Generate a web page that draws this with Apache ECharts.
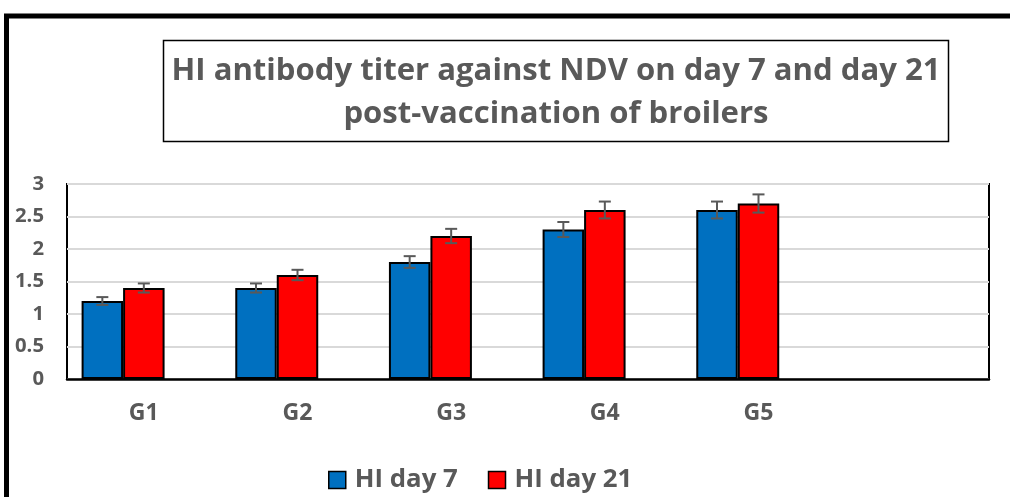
<!DOCTYPE html>
<html><head><meta charset="utf-8">
<script src="https://cdn.jsdelivr.net/npm/echarts@6/dist/echarts.min.js"></script>
<style>html,body{margin:0;padding:0;background:#fff}#c{width:1010px;height:497px}</style>
</head><body><div id="c"></div>
<script>
const categories = ['G1','G2','G3','G4','G5',''];
const day7 = [1.2, 1.4, 1.8, 2.3, 2.6];
const day21 = [1.4, 1.6, 2.2, 2.6, 2.7];
const err7 = [0.06, 0.07, 0.09, 0.115, 0.13];
const err21 = [0.07, 0.08, 0.11, 0.13, 0.14];
const seriesNames = ['HI day 7', 'HI day 21'];
const titleLines = ['HI antibody titer against NDV on day 7 and day 21', 'post-vaccination of broilers'];

const FONT = 'Open Sans';
const GRAY = '#595959';
const GAP = 0.19;

// size a font so that a sample string takes a given width
const mctx = document.createElement('canvas').getContext('2d');
function fitSize(sample, targetWidth) {
  mctx.font = 'bold 100px "' + FONT + '"';
  return Math.round(100 * targetWidth / mctx.measureText(sample).width * 10) / 10;
}
const titleSize = fitSize(titleLines[0], 768);
const yLabelSize = fitSize('2.5', 29);
const xLabelSize = fitSize('G1', 30);
const legendSize = fitSize(seriesNames[0], 103);

function errRender(slot, errs) {
  return function (params, api) {
    const i = params.dataIndex;
    const v = api.value(1);
    const e = errs[i];
    const base = api.coord([i, v]);
    const band = api.size([1, 0])[0];
    const bw = band * (1 - GAP) / 3;
    const x = base[0] - 1.5 * bw + (slot + 0.5) * bw;
    const top = api.coord([i, v + e])[1];
    const bot = api.coord([i, v - e])[1];
    const cw = 6;
    const st = { stroke: GRAY, lineWidth: 2 };
    return { type: 'group', children: [
      { type: 'line', shape: { x1: x, y1: top, x2: x, y2: bot }, style: st },
      { type: 'line', shape: { x1: x - cw, y1: top, x2: x + cw, y2: top }, style: st },
      { type: 'line', shape: { x1: x - cw, y1: bot, x2: x + cw, y2: bot }, style: st }
    ]};
  };
}

const chart = echarts.init(document.getElementById('c'), null, { renderer: 'canvas' });
chart.setOption({
  animation: false,
  backgroundColor: '#fff',
  graphic: [
    { type: 'rect', shape: { x: 6.5, y: 16, width: 1100, height: 600 }, style: { fill: 'none', stroke: '#000', lineWidth: 5 }, z: 100 },
    { type: 'rect', shape: { x: 163.5, y: 40.5, width: 785, height: 101 }, style: { fill: 'none', stroke: '#000', lineWidth: 1.5 }, z: 100 }
  ],
  title: {
    text: titleLines.join('\n'), left: 556, top: 50, textAlign: 'center', padding: 0,
    textStyle: { fontFamily: FONT, fontWeight: 'bold', fontSize: titleSize, color: GRAY, lineHeight: 43 }
  },
  legend: {
    data: seriesNames, left: 323, top: 462, icon: 'rect', itemWidth: 17, itemHeight: 17, itemGap: 30,
    textStyle: { fontFamily: FONT, fontWeight: 'bold', fontSize: legendSize, color: GRAY, padding: [0, 0, 0, 4] },
    itemStyle: { borderColor: '#000', borderWidth: 1.5 }
  },
  grid: { left: 67, right: 21, top: 184, bottom: 118, show: true, borderColor: '#000', borderWidth: 2, backgroundColor: 'transparent' },
  xAxis: {
    type: 'category', data: categories,
    axisLine: { show: true, lineStyle: { color: '#000', width: 2.5 } },
    axisTick: { show: false },
    axisLabel: { margin: Math.round(414 - 379 - xLabelSize / 2), fontFamily: FONT, fontWeight: 'bold', fontSize: xLabelSize, color: GRAY }
  },
  yAxis: {
    type: 'value', min: 0, max: 3, interval: 0.5,
    axisLine: { show: false }, axisTick: { show: false },
    splitLine: { lineStyle: { color: '#d9d9d9', width: 2 } },
    axisLabel: { margin: 23, fontFamily: FONT, fontWeight: 'bold', fontSize: yLabelSize, color: GRAY }
  },
  series: [
    { name: seriesNames[0], type: 'bar', data: day7, barGap: '0%', barCategoryGap: (GAP * 100) + '%',
      itemStyle: { color: '#0070c0', borderColor: '#000', borderWidth: 2 } },
    { name: seriesNames[1], type: 'bar', data: day21, barGap: '0%', barCategoryGap: (GAP * 100) + '%',
      itemStyle: { color: '#ff0000', borderColor: '#000', borderWidth: 2 } },
    { name: 'spacer', type: 'bar', data: categories.map(() => '-'), barGap: '0%', barCategoryGap: (GAP * 100) + '%' },
    { type: 'custom', renderItem: errRender(0, err7), data: day7.map((v, i) => [i, v]), z: 10, silent: true },
    { type: 'custom', renderItem: errRender(1, err21), data: day21.map((v, i) => [i, v]), z: 10, silent: true }
  ]
});
</script></body></html>
